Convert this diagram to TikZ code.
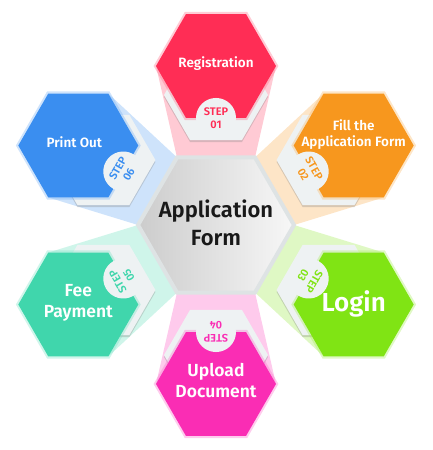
\documentclass[tikz,border=0pt]{standalone}
\usepackage{fontspec}
\setmainfont{Fira Sans}[BoldFont={Fira Sans SemiBold}]
\usetikzlibrary{shapes.geometric, shadows}

\definecolor{stepred}{RGB}{255,45,85}
\definecolor{steporange}{RGB}{247,151,30}
\definecolor{steplime}{RGB}{128,228,20}
\definecolor{steppink}{RGB}{250,45,180}
\definecolor{stepteal}{RGB}{64,214,172}
\definecolor{stepblue}{RGB}{58,142,240}
\definecolor{tabgrey}{RGB}{238,242,243}
\definecolor{rimgrey}{RGB}{222,227,228}

\pgfdeclarelayer{bands}
\pgfdeclarelayer{tabs}
\pgfsetlayers{bands,tabs,main}

\begin{document}
\begin{tikzpicture}[x=1pt, y=1pt,
    hexa/.style={regular polygon, regular polygon sides=6, minimum size=120pt, inner sep=0pt, outer sep=0pt, fill=#1,
        drop shadow={shadow xshift=0pt, shadow yshift=0pt, shadow scale=1.04, fill=#1!70, opacity=.35}},
    tabhex/.style={regular polygon, regular polygon sides=6, minimum size=104pt, inner sep=0pt, outer sep=0pt, fill=tabgrey,
        drop shadow={shadow xshift=0pt, shadow yshift=-2pt, opacity=.3}},
    notch/.style={circle, fill=tabgrey, minimum size=40pt, inner sep=0pt, align=center, text=#1,
        font=\bfseries\fontsize{11}{12.5}\selectfont},
    hextext/.style 2 args={text=white, align=center, inner sep=0pt, font=\bfseries\fontsize{#1}{#2}\selectfont}]
    \useasboundingbox (-216,-225) rectangle (216,225);

    % centre
    \node[regular polygon, regular polygon sides=6, minimum size=156pt, inner sep=0pt, outer sep=0pt,
        left color=black!20, right color=black!3, draw=rimgrey, line width=4pt] (app) at (0,0) {};
    \node[align=center, text=black!90, font=\bfseries\fontsize{22}{28}\selectfont] (app text) at (0,2) {Application\\Form};

    % coloured steps
    \node[hexa=stepred] (reg) at (90:159) {};
    \node[hexa=steporange] (fill) at (30:159) {};
    \node[hexa=steplime] (login) at (-30:159) {};
    \node[hexa=steppink] (up) at (-90:159) {};
    \node[hexa=stepteal] (fee) at (-150:159) {};
    \node[hexa=stepblue] (print) at (150:159) {};

    % grey tabs behind
    \begin{pgfonlayer}{tabs}
        \node[tabhex] (reg tab) at (90:130) {};
        \node[tabhex] (fill tab) at (30:130) {};
        \node[tabhex] (login tab) at (-30:130) {};
        \node[tabhex] (up tab) at (-90:130) {};
        \node[tabhex] (fee tab) at (-150:130) {};
        \node[tabhex] (print tab) at (150:130) {};
    \end{pgfonlayer}

    % light bands to the centre
    \begin{pgfonlayer}{bands}
        \fill[stepred!25] (app.60) -- (reg.0) -- (reg.180) -- (app.120) -- cycle;
        \fill[steporange!25] (app.0) -- (fill.300) -- (fill.120) -- (app.60) -- cycle;
        \fill[steplime!25] (app.300) -- (login.240) -- (login.60) -- (app.0) -- cycle;
        \fill[steppink!25] (app.240) -- (up.180) -- (up.0) -- (app.300) -- cycle;
        \fill[stepteal!25] (app.180) -- (fee.120) -- (fee.300) -- (app.240) -- cycle;
        \fill[stepblue!25] (app.120) -- (print.60) -- (print.240) -- (app.180) -- cycle;
    \end{pgfonlayer}

    % labels
    \node[hextext={13.5}{16}] (reg text) at ([yshift=2pt]reg.center) {Registration};
    \node[hextext={13.5}{16}] (fill text) at ([yshift=11pt]fill.center) {Fill the\\Application Form};
    \node[hextext={26}{30}] (login text) at ([yshift=1pt]login.center) {Login};
    \node[hextext={17.5}{21}] (fee text) at ([yshift=2pt]fee.center) {Fee\\Payment};
    \node[hextext={17.5}{21}] (up text) at ([yshift=3pt]up.center) {Upload\\Document};
    \node[hextext={13.5}{16}] (print text) at ([shift={(-4pt,3pt)}]print.center) {Print Out};

    % step notches
    \node[notch=stepred, rotate=0] (reg step) at (reg.270) {STEP\\01};
    \node[notch=steporange, rotate=-60] (fill step) at (fill.210) {STEP\\02};
    \node[notch=steplime, rotate=-120] (login step) at (login.150) {STEP\\03};
    \node[notch=steppink, rotate=180] (up step) at (up.90) {STEP\\04};
    \node[notch=stepteal, rotate=120] (fee step) at (fee.30) {STEP\\05};
    \node[notch=stepblue, rotate=60] (print step) at (print.330) {STEP\\06};
\end{tikzpicture}
\end{document}
